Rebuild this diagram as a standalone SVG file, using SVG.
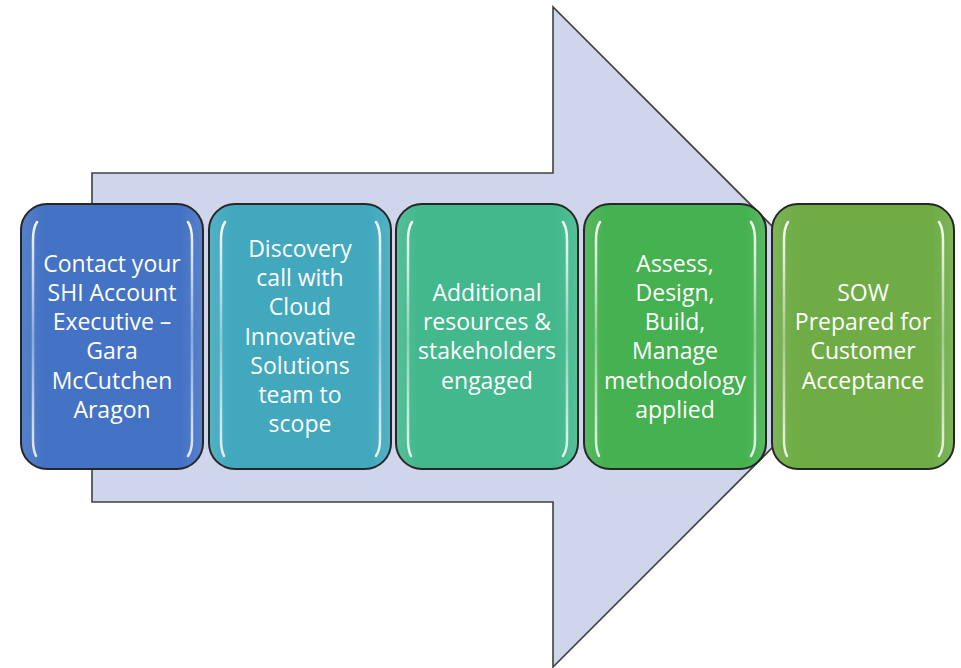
<svg xmlns="http://www.w3.org/2000/svg" width="961" height="668" viewBox="0 0 961 668">
  <defs>
    <linearGradient id="shine" x1="0" y1="0" x2="0" y2="1">
      <stop offset="0" stop-color="#fff" stop-opacity="0.95"/>
      <stop offset="0.5" stop-color="#fff" stop-opacity="0.35"/>
      <stop offset="1" stop-color="#fff" stop-opacity="0.85"/>
    </linearGradient>
    <linearGradient id="gloss" x1="0" y1="0" x2="1" y2="0">
      <stop offset="0" stop-color="#fff" stop-opacity="0.10"/>
      <stop offset="0.12" stop-color="#fff" stop-opacity="0"/>
      <stop offset="0.88" stop-color="#fff" stop-opacity="0"/>
      <stop offset="1" stop-color="#fff" stop-opacity="0.10"/>
    </linearGradient>
  </defs>
  <style>
    .box { stroke: #262626; stroke-width: 2; }
    .gl { fill: url(#gloss); }
    .hl { fill: none; stroke: url(#shine); stroke-width: 2.5; stroke-linecap: round; }
    .t { font-family: "Open Sans", "Liberation Sans", sans-serif; font-size: 23px; fill: #ffffff; text-anchor: middle; }
  </style>
  <rect width="961" height="668" fill="#ffffff"/>
  <g id="arrow">
    <path d="M92,173 L553,173 L553,7 L883,337 L553,667 L553,502 L92,502 Z" fill="#CFD5EA" stroke="#404040" stroke-width="1.6" stroke-linejoin="miter"/>
  </g>
  <g id="connectors"></g>
  <g id="node1">
    <rect class="box" x="21" y="204" width="182" height="265" rx="26" fill="#4472C4"/>
    <rect class="gl" x="22" y="205" width="180" height="263" rx="25"/>
    <path class="hl" d="M37,222 Q33,228 33,240 L33,440 Q33,450 36,456"/>
    <path class="hl" d="M188,222 Q192,228 192,240 L192,440 Q192,450 188,456"/>
    <text class="t" x="112" y="272">Contact your</text>
    <text class="t" x="112" y="301">SHI Account</text>
    <text class="t" x="112" y="330">Executive –</text>
    <text class="t" x="112" y="359">Gara</text>
    <text class="t" x="112" y="389">McCutchen</text>
    <text class="t" x="112" y="418">Aragon</text>
  </g>
  <g id="node2">
    <rect class="box" x="209" y="204" width="182" height="265" rx="26" fill="#41A8BE"/>
    <rect class="gl" x="210" y="205" width="180" height="263" rx="25"/>
    <path class="hl" d="M225,222 Q221,228 221,240 L221,440 Q221,450 224,456"/>
    <path class="hl" d="M376,222 Q380,228 380,240 L380,440 Q380,450 376,456"/>
    <text class="t" x="300" y="257">Discovery</text>
    <text class="t" x="300" y="286">call with</text>
    <text class="t" x="300" y="315">Cloud</text>
    <text class="t" x="300" y="345">Innovative</text>
    <text class="t" x="300" y="374">Solutions</text>
    <text class="t" x="300" y="403">team to</text>
    <text class="t" x="300" y="432">scope</text>
  </g>
  <g id="node3">
    <rect class="box" x="396" y="204" width="182" height="265" rx="26" fill="#43B88C"/>
    <rect class="gl" x="397" y="205" width="180" height="263" rx="25"/>
    <path class="hl" d="M412,222 Q408,228 408,240 L408,440 Q408,450 411,456"/>
    <path class="hl" d="M563,222 Q567,228 567,240 L567,440 Q567,450 563,456"/>
    <text class="t" x="487" y="301">Additional</text>
    <text class="t" x="487" y="330">resources &amp;</text>
    <text class="t" x="487" y="359">stakeholders</text>
    <text class="t" x="487" y="389">engaged</text>
  </g>
  <g id="node4">
    <rect class="box" x="584" y="204" width="182" height="265" rx="26" fill="#45B150"/>
    <rect class="gl" x="585" y="205" width="180" height="263" rx="25"/>
    <path class="hl" d="M600,222 Q596,228 596,240 L596,440 Q596,450 599,456"/>
    <path class="hl" d="M751,222 Q755,228 755,240 L755,440 Q755,450 751,456"/>
    <text class="t" x="675" y="272">Assess,</text>
    <text class="t" x="675" y="301">Design,</text>
    <text class="t" x="675" y="330">Build,</text>
    <text class="t" x="675" y="359">Manage</text>
    <text class="t" x="675" y="389">methodology</text>
    <text class="t" x="675" y="418">applied</text>
  </g>
  <g id="node5">
    <rect class="box" x="772" y="204" width="182" height="265" rx="26" fill="#6FAC46"/>
    <rect class="gl" x="773" y="205" width="180" height="263" rx="25"/>
    <path class="hl" d="M788,222 Q784,228 784,240 L784,440 Q784,450 787,456"/>
    <path class="hl" d="M939,222 Q943,228 943,240 L943,440 Q943,450 939,456"/>
    <text class="t" x="863" y="301">SOW</text>
    <text class="t" x="863" y="330">Prepared for</text>
    <text class="t" x="863" y="359">Customer</text>
    <text class="t" x="863" y="389">Acceptance</text>
  </g>
</svg>
